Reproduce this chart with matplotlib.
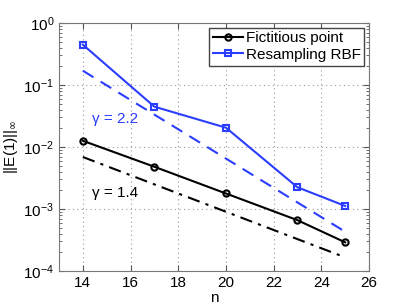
import numpy as np
import matplotlib
matplotlib.use("Agg")
import matplotlib.pyplot as plt

# grid sizes
n = [14, 17, 20, 23, 25]

# max-norm error at t = 1
err_fictitious = [0.0126, 0.0048, 0.00178, 0.00066, 0.00029]
err_resampling = [0.447, 0.0447, 0.0205, 0.00224, 0.00112]

# reference slopes (endpoints only)
ref_n = [14, 25]
ref_22 = [0.17, 0.00043]
ref_14 = [0.0069, 0.000166]

blue = "#2b3dff"

plt.rcParams["font.family"] = ["Liberation Sans", "DejaVu Sans"]

fig = plt.figure(figsize=(4.07, 3.06), dpi=100)
ax = fig.add_axes([59 / 407, 1 - 271 / 306, 310 / 407, 248 / 306])

ax.semilogy(n, err_fictitious, "-o", color="black", lw=1.5, ms=4.5,
            mfc="none", mew=1.5, label="Fictitious point")
ax.semilogy(n, err_resampling, "-s", color=blue, lw=1.5, ms=4.5,
            mfc="none", mew=1.5, label="Resampling RBF")
ax.semilogy(ref_n, ref_22, "--", color=blue, lw=1.5, dashes=(6, 4))
ax.semilogy(ref_n, ref_14, "-.", color="black", lw=1.5, dashes=(6, 3, 1.5, 3))

ax.text(15.35, 0.028, "γ = 2.2", color=blue, fontsize=11, ha="center", va="center")
ax.text(15.35, 0.0018, "γ = 1.4", color="black", fontsize=11, ha="center", va="center")

ax.set_xlim(13, 26)
ax.set_ylim(1e-4, 1)
ax.set_xticks([14, 16, 18, 20, 22, 24, 26])
ax.set_yticks([1e-4, 1e-3, 1e-2, 1e-1, 1])
ax.grid(True, which="major", ls=(0, (1, 3)), color="#999999", lw=0.8)
ax.tick_params(which="both", direction="in", top=True, right=True,
               labelsize=11, color="#555555")
ax.tick_params(which="major", length=4)
ax.tick_params(which="minor", length=2)
for s in ax.spines.values():
    s.set_color("#777777")

ax.set_xlabel("n", fontsize=11, labelpad=1)
ax.set_ylabel("||E(1)||$_\\infty$", fontsize=11, labelpad=2)

leg = ax.legend(loc="upper right", fontsize=11, fancybox=False,
                framealpha=1, edgecolor="#444444", handlelength=1.95,
                borderpad=0.25, labelspacing=0.15, handletextpad=0.2,
                borderaxespad=0.3)
leg.get_frame().set_linewidth(1.0)

fig.savefig("out.png", dpi=100)
